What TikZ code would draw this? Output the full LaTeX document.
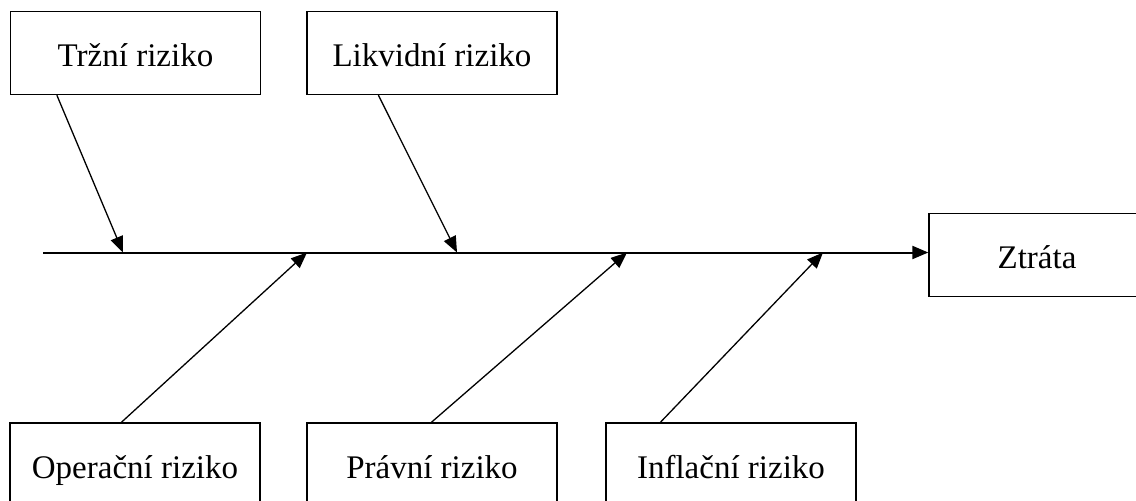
\documentclass[tikz,border=0pt]{standalone}
\usepackage{fontspec}
\setmainfont{Liberation Serif}
\usetikzlibrary{arrows.meta, positioning, calc}

\begin{document}
\begin{tikzpicture}[x=1pt, y=-1pt,
    % Define the style for the risk boxes
    riskbox/.style={
        draw, line width=1.3pt, rectangle, inner sep=0pt,
        minimum width=250pt, minimum height=83pt,
        text height=27pt, text depth=0pt,
        font=\fontsize{33}{40}\selectfont
    },
    % Define the style for the arrows
    riskarrow/.style={line width=1.3pt, -{Triangle[length=16pt, width=13pt]}},
    spine/.style={line width=2pt, -{Triangle[length=16pt, width=13pt]}}
]
\useasboundingbox (0,0) rectangle (1136,501);

% Boxes above the line
\node[riskbox] (trzni) at (135.5,53) {Tržní riziko};
\node[riskbox] (likvidni) at (432,53) {Likvidní riziko};

% Boxes below the line
\node[riskbox] (operacni) at (135,464.5) {Operační riziko};
\node[riskbox] (pravni) at (432,464.5) {Právní riziko};
\node[riskbox] (inflacni) at (731,464.5) {Inflační riziko};

% Result box
\node[riskbox, minimum width=216pt] (ztrata) at (1037,255) {Ztráta};

% Points on the main line
\coordinate (S) at (43,252.5);
\coordinate (P1) at (123,252.5);
\coordinate (P2) at (457,252.5);
\coordinate (P3) at (307,252.5);
\coordinate (P4) at (627,252.5);
\coordinate (P5) at (823,252.5);

% Draw the main line
\draw[spine] (S) -- (S -| ztrata.west);

% Draw the arrows into the main line
\draw[riskarrow] ([xshift=47pt]trzni.south west) -- (P1);
\draw[riskarrow] ([xshift=72pt]likvidni.south west) -- (P2);
\draw[riskarrow] ([xshift=112pt]operacni.north west) -- (P3);
\draw[riskarrow] ([xshift=125pt]pravni.north west) -- (P4);
\draw[riskarrow] ([xshift=55pt]inflacni.north west) -- (P5);

\end{tikzpicture}
\end{document}
